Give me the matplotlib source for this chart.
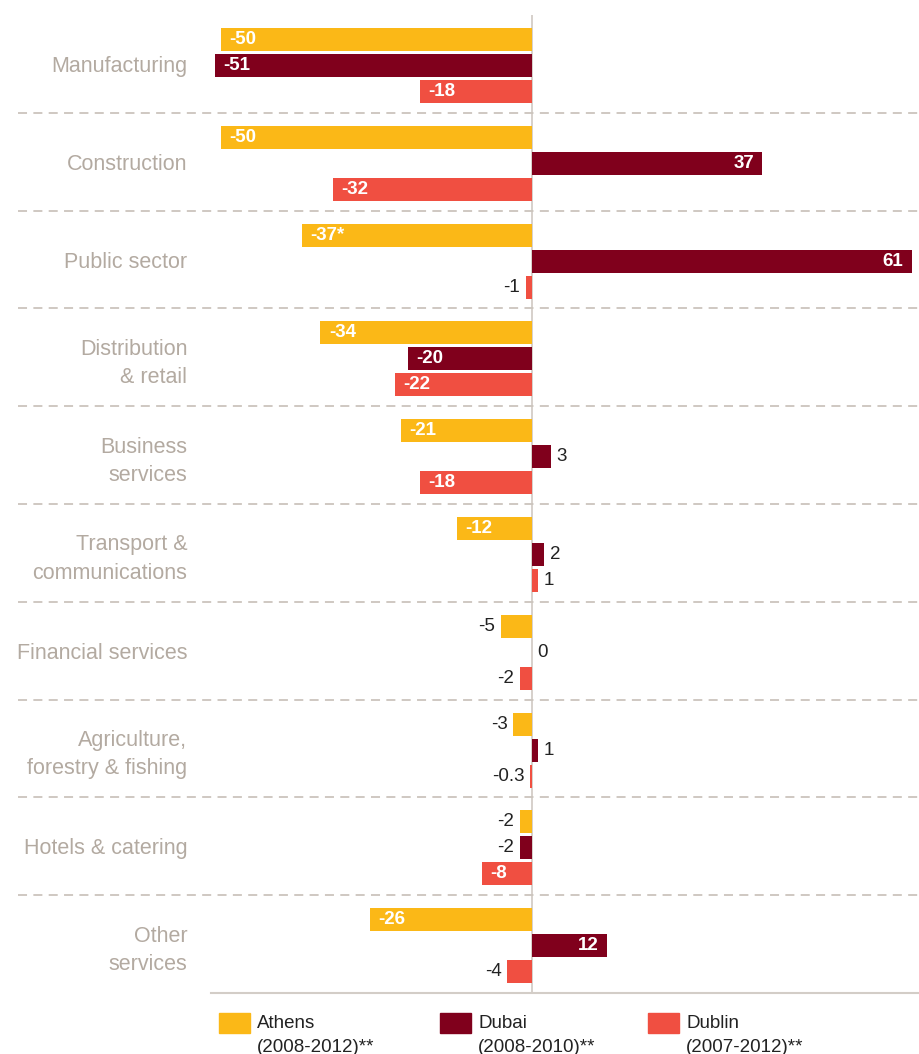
import matplotlib.pyplot as plt
from matplotlib.patches import Rectangle
from matplotlib.lines import Line2D
from matplotlib.transforms import blended_transform_factory
import numpy as np

plt.rcParams['font.family'] = ['Liberation Sans', 'DejaVu Sans']

sectors = ["Manufacturing", "Construction", "Public sector", "Distribution\n& retail",
           "Business\nservices", "Transport &\ncommunications", "Financial services",
           "Agriculture,\nforestry & fishing", "Hotels & catering", "Other\nservices"]
athens = [-50, -50, -37, -34, -21, -12, -5, -3, -2, -26]
dubai = [-51, 37, 61, -20, 3, 2, 0, 1, -2, 12]
dublin = [-18, -32, -1, -22, -18, 1, -2, -0.3, -8, -4]
series_names = ["Athens", "Dubai", "Dublin"]
series_periods = ["(2008-2012)**", "(2008-2010)**", "(2007-2012)**"]
colors = ["#FBB817", "#80001C", "#F04F41"]
# footnote marks on single values: (series, sector) -> suffix
marks = {(0, 2): "*"}

W, H = 919, 1054
fig = plt.figure(figsize=(W / 100, H / 100), dpi=100)
ax = fig.add_axes([211 / W, 1 - 993 / H, 1 - 211 / W, (993 - 15) / H])

y = np.arange(len(sectors))
step = 0.266
height = 0.235
label_col = "#b3aaa1"
grid_col = "#cbc4bd"

ax.axvline(0, color=grid_col, lw=1.1, zorder=0)

for s, vals in enumerate([athens, dubai, dublin]):
    ys = y + (s - 1) * step + 0.017
    ax.barh(ys, vals, height=height, color=colors[s], zorder=2)
    for i, (v, yy) in enumerate(zip(vals, ys)):
        txt = f"{v:g}" + marks.get((s, i), "")
        if abs(v) >= 8:
            off = 6 if v < 0 else -6
            ha = "left" if v < 0 else "right"
            ax.annotate(txt, (v, yy), xytext=(off, 0), textcoords="offset points",
                        ha=ha, va="center", color="white", fontsize=13.5,
                        fontweight="bold", zorder=3)
        else:
            off = -4 if v < 0 else 4
            ha = "right" if v < 0 else "left"
            ax.annotate(txt, (v, yy), xytext=(off, 0), textcoords="offset points",
                        ha=ha, va="center", color="#222222", fontsize=13.5, zorder=3)

ax.set_xlim(-51.6, 62.2)
ax.set_ylim(len(sectors) - 0.5, -0.5)
ax.set_yticks(y, sectors)
ax.tick_params(axis="y", length=0, pad=17, labelcolor=label_col, labelsize=15.5)
for lbl in ax.get_yticklabels():
    lbl.set_linespacing(1.45)
ax.set_xticks([])
for side in ["top", "left", "right"]:
    ax.spines[side].set_visible(False)
ax.spines["bottom"].set_color("#d3cdc7")
ax.spines["bottom"].set_linewidth(1.5)

# dashed separators between sectors, running out under the labels
trans = blended_transform_factory(fig.transFigure, ax.transData)
for k in range(len(sectors) - 1):
    ax.add_line(Line2D([18 / W, 1], [k + 0.5, k + 0.5], transform=trans,
                       color=grid_col, lw=1.3, ls=(0, (5, 3.5)), clip_on=False, zorder=1))

# legend
for s, x0 in enumerate([219, 440, 648]):
    fig.patches.append(Rectangle((x0 / W, 1 - 1033 / H), 31 / W, 20 / H,
                                 transform=fig.transFigure, color=colors[s]))
    fig.text((x0 + 38) / W, 1 - 1023 / H, series_names[s], ha="left", va="center",
             fontsize=13.5, color="#222222")
    fig.text((x0 + 38) / W, 1 - 1047 / H, series_periods[s], ha="left", va="center",
             fontsize=13.5, color="#222222")

fig.savefig("out.png", dpi=100)
